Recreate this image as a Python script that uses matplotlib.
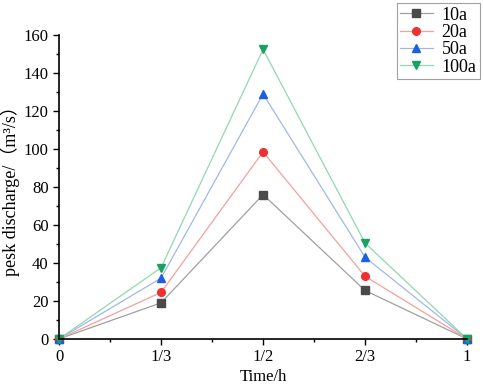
import numpy as np
import matplotlib.pyplot as plt
from matplotlib.ticker import MultipleLocator

# peak discharge per return period
time_labels = ["0", "1/3", "1/2", "2/3", "1"]
q_10a = [0, 19, 76, 25.5, 0]
q_20a = [0, 24.5, 98.5, 33, 0]
q_50a = [0, 32, 129, 43, 0]
q_100a = [0, 37.5, 152.5, 50.5, 0]

series = [
    ("10a", q_10a, "#4a4a4a", "#a0a0a0", "s"),
    ("20a", q_20a, "#f03030", "#f4a0a0", "o"),
    ("50a", q_50a, "#1a60e0", "#a0b8e8", "^"),
    ("100a", q_100a, "#1aa060", "#90d8b0", "v"),
]

plt.rcParams['font.family'] = ['Liberation Serif', 'Noto Sans CJK SC']
plt.rcParams['font.size'] = 12

fig = plt.figure(figsize=(4.84, 3.86), dpi=100)
ax = fig.add_axes([0.122, 0.122, 0.843, 0.787])

x = np.arange(len(time_labels))
for name, vals, mc, lc, mk in series:
    ax.plot(x, vals, color=lc, lw=0.9, marker=mk, markersize=5.5,
            markerfacecolor=mc, markeredgecolor=mc, label=name)

ax.set_xlim(0, 4)
ax.set_ylim(0, 160)
ax.set_xticks(x)
ax.set_xticklabels(time_labels)
ax.xaxis.set_minor_locator(MultipleLocator(0.5))
ax.yaxis.set_major_locator(MultipleLocator(20))
ax.yaxis.set_minor_locator(MultipleLocator(10))
ax.tick_params(which='major', direction='out', length=4, width=1, labelsize=12)
ax.tick_params(which='minor', direction='out', length=2.5, width=1)

ax.spines['top'].set_visible(False)
ax.spines['right'].set_visible(False)
for s in ('left', 'bottom'):
    ax.spines[s].set_linewidth(1.2)

ax.set_xlabel("Time/h", fontsize=12, labelpad=3)
ax.set_ylabel("pesk discharge/（m³/s）", fontsize=13)
ax.yaxis.set_label_coords(-0.095, 0.5)

leg = fig.legend(loc='upper right', bbox_to_anchor=(0.992, 0.992), fontsize=13,
                 frameon=True, fancybox=False, edgecolor='#888888',
                 handlelength=1.8, borderpad=0.2, labelspacing=0.02,
                 handletextpad=0.5, borderaxespad=0)
leg.get_frame().set_linewidth(0.8)

for line in ax.get_lines():
    line.set_clip_on(False)

fig.savefig("out.png", dpi=100)
